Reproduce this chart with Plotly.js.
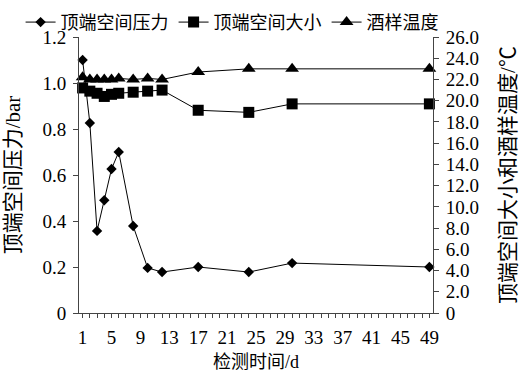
<!DOCTYPE html>
<html>
<head>
<meta charset="utf-8">
<script src="https://cdn.plot.ly/plotly-3.0.1.min.js"></script>
<style>html,body{margin:0;padding:0;background:#fff;}#chart{width:521px;height:382px;}</style>
</head>
<body>
<div id="chart"></div>
<script>
// Data
var pressureDays = [1, 2, 3, 4, 5, 6, 8, 10, 12, 17, 24, 30, 49];
var pressureValues = [1.10, 0.826, 0.357, 0.49, 0.626, 0.70, 0.378, 0.196, 0.178, 0.20, 0.178, 0.217, 0.20];
var sizeDays = [1, 2, 3, 4, 5, 6, 8, 10, 12, 17, 24, 30, 49];
var sizeValues = [21.2, 20.9, 20.7, 20.4, 20.6, 20.7, 20.8, 20.9, 21.0, 19.1, 18.9, 19.7, 19.7];
var tempDays = [1, 2, 3, 4, 5, 6, 8, 10, 12, 17, 24, 30, 49];
var tempValues = [22.2, 22.0, 22.0, 22.0, 22.0, 22.1, 22.0, 22.1, 22.0, 22.7, 23.0, 23.0, 23.0];

var seriesNames = ['顶端空间压力', '顶端空间大小', '酒样温度'];
var xTickVals = [1, 5, 9, 13, 17, 21, 25, 29, 33, 37, 41, 45, 49];
var y1TickVals = [0, 0.2, 0.4, 0.6, 0.8, 1.0, 1.2];
var y1TickText = ['0', '0.2', '0.4', '0.6', '0.8', '1.0', '1.2'];
var y2TickVals = [0, 2, 4, 6, 8, 10, 12, 14, 16, 18, 20, 22, 24, 26];
var y2TickText = ['0', '2.0', '4.0', '6.0', '8.0', '10.0', '12.0', '14.0', '16.0', '18.0', '20.0', '22.0', '24.0', '26.0'];

var FONT = '"Liberation Serif", "Noto Sans CJK SC", serif';
var lineStyle = {color: '#000', width: 1};

var traces = [
  {x: pressureDays, y: pressureValues, name: seriesNames[0], type: 'scatter', mode: 'lines+markers',
   line: lineStyle, marker: {symbol: 'diamond', size: 8, color: '#000'}, yaxis: 'y', cliponaxis: false},
  {x: sizeDays, y: sizeValues, name: seriesNames[1], type: 'scatter', mode: 'lines+markers',
   line: lineStyle, marker: {symbol: 'square', size: 11, color: '#000'}, yaxis: 'y2', cliponaxis: false},
  {x: tempDays, y: tempValues, name: seriesNames[2], type: 'scatter', mode: 'lines+markers',
   line: lineStyle, marker: {symbol: 'triangle-up', size: 12, color: '#000'}, yaxis: 'y2', cliponaxis: false}
];

var axisCommon = {
  showline: true, linecolor: '#444', linewidth: 1, showgrid: false, zeroline: false,
  ticks: 'outside', tickcolor: '#444', tickwidth: 1, ticklen: 5,
  ticklabelstandoff: 3,
  tickfont: {family: FONT, size: 19, color: '#000'}
};
var xTitleFont = {family: FONT, size: 18, color: '#000'};
var yTitleFont = {family: FONT, size: 21, color: '#000'};

var layout = {
  width: 521, height: 382,
  margin: {l: 79, r: 88, t: 37, b: 69, autoexpand: false},
  paper_bgcolor: '#fff', plot_bgcolor: '#fff',
  font: {family: FONT, color: '#000'},
  showlegend: true,
  legend: {orientation: 'h', x: -0.165, xanchor: 'left', xref: 'paper', y: 1.12, yanchor: 'top',
           yref: 'paper', font: {family: FONT, size: 18, color: '#000'}, itemwidth: 30,
           traceorder: 'normal', bgcolor: 'rgba(0,0,0,0)'},
  xaxis: Object.assign({}, axisCommon, {
    range: [0.5, 49.5], tickmode: 'array', tickvals: xTickVals, ticklen: 4,
    minor: {tick0: 1, dtick: 1, ticks: 'outside', ticklen: 4, tickcolor: '#444', tickwidth: 1},
    title: {text: '检测时间/d', font: xTitleFont, standoff: 8}
  }),
  yaxis: Object.assign({}, axisCommon, {
    range: [0, 1.2], tickmode: 'array', tickvals: y1TickVals, ticktext: y1TickText,
    title: {text: '顶端空间压力/bar', font: yTitleFont, standoff: 16}
  }),
  yaxis2: Object.assign({}, axisCommon, {
    range: [0, 26], overlaying: 'y', side: 'right', tickmode: 'array',
    tickvals: y2TickVals, ticktext: y2TickText,
    title: {text: '顶端空间大小和酒样温度/℃', font: yTitleFont, standoff: 22}
  })
};

Plotly.newPlot('chart', traces, layout, {displayModeBar: false, staticPlot: true});
</script>
</body>
</html>
